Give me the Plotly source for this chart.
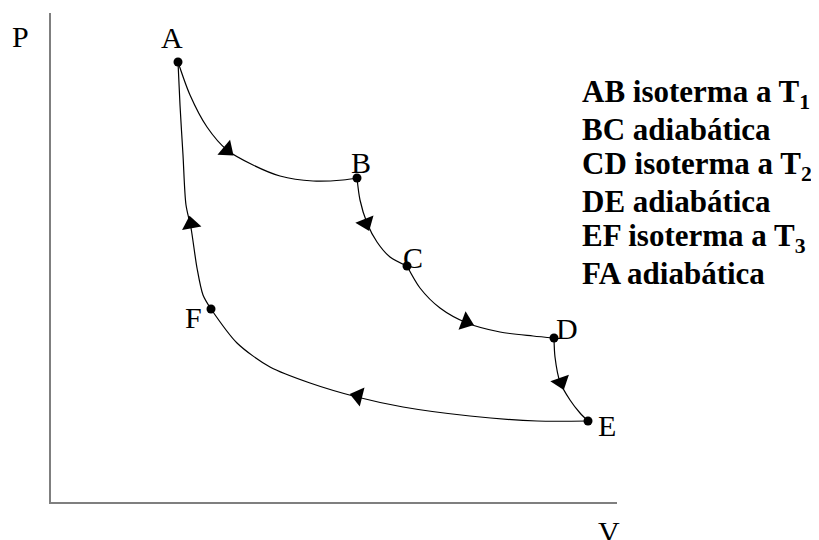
import plotly.graph_objects as go

# Ciclo en el diagrama P-V (unidades arbitrarias)
puntos = ['A', 'B', 'C', 'D', 'E', 'F']
V_puntos = [1.27, 3.06, 3.56, 5.03, 5.37, 1.60]
P_puntos = [4.40, 3.24, 2.36, 1.64, 0.81, 1.93]

# Tramos del ciclo
V_AB = [1.27, 1.39, 1.56, 1.76, 2.02, 2.29, 2.62, 2.92, 3.06]
P_AB = [4.40, 4.07, 3.75, 3.52, 3.37, 3.26, 3.21, 3.22, 3.24]
V_BC = [3.06, 3.09, 3.16, 3.26, 3.39, 3.56]
P_BC = [3.24, 3.02, 2.79, 2.60, 2.45, 2.36]
V_CD = [3.56, 3.69, 3.89, 4.16, 4.49, 4.82, 5.03]
P_CD = [2.36, 2.14, 1.94, 1.79, 1.70, 1.66, 1.64]
V_DE = [5.03, 5.04, 5.09, 5.19, 5.29, 5.37]
P_DE = [1.64, 1.45, 1.20, 1.02, 0.89, 0.81]
V_EF = [5.37, 4.86, 4.19, 3.52, 3.06, 2.59, 2.19, 1.86, 1.60]
P_EF = [0.81, 0.81, 0.86, 0.95, 1.05, 1.19, 1.35, 1.59, 1.93]
V_FA = [1.60, 1.52, 1.46, 1.40, 1.35, 1.32, 1.29, 1.27]
P_FA = [1.93, 2.07, 2.34, 2.74, 2.97, 3.47, 3.97, 4.40]

# Flechas de sentido
V_flechas = [1.76, 3.15, 4.15, 5.10, 3.07, 1.40]
P_flechas = [3.52, 2.79, 1.80, 1.20, 1.06, 2.78]

leyenda = ['AB isoterma a T<sub>1</sub>', 'BC adiabática', 'CD isoterma a T<sub>2</sub>',
           'DE adiabática', 'EF isoterma a T<sub>3</sub>', 'FA adiabática']

FUENTE = 'Liberation Serif, Times New Roman, serif'
ANGULOS_FLECHAS = [130, 158, 111, 161, 284, -10]
DESPLAZ_ETIQUETAS = [(-6, 25), (4, 16), (6, 9), (13, 10), (19, -4), (-18, -8)]

fig = go.Figure()

tramos = [(V_AB, P_AB), (V_BC, P_BC), (V_CD, P_CD), (V_DE, P_DE), (V_EF, P_EF), (V_FA, P_FA)]
for vs, ps in tramos:
    fig.add_trace(go.Scatter(
        x=vs, y=ps, mode='lines',
        line=dict(color='black', width=1.2, shape='spline', smoothing=0.8),
        hoverinfo='skip'
    ))

fig.add_trace(go.Scatter(
    x=V_flechas, y=P_flechas, mode='markers',
    marker=dict(symbol='triangle-up', size=17, color='black', angle=ANGULOS_FLECHAS),
    hoverinfo='skip'
))

fig.add_trace(go.Scatter(
    x=V_puntos, y=P_puntos, mode='markers',
    marker=dict(size=9, color='black'),
    cliponaxis=False
))

# Etiquetas de los puntos
for nombre, v, p, (dx, dy) in zip(puntos, V_puntos, P_puntos, DESPLAZ_ETIQUETAS):
    fig.add_annotation(x=v, y=p, text=nombre, showarrow=False,
                       xshift=dx, yshift=dy, xanchor='center', yanchor='middle',
                       font=dict(family=FUENTE, size=30, color='black'))

# Leyenda de los procesos
for i, linea in enumerate(leyenda):
    fig.add_annotation(xref='paper', yref='paper', x=0.935, y=0.835 - i * 0.0736,
                       text='<b>' + linea + '</b>', showarrow=False,
                       xanchor='left', yanchor='middle',
                       font=dict(family=FUENTE, size=31, color='black'))

# Nombres de los ejes
fig.add_annotation(xref='paper', yref='paper', x=-0.054, y=0.951, text='P',
                   showarrow=False, xanchor='center', yanchor='middle',
                   font=dict(family=FUENTE, size=30, color='black'))
fig.add_annotation(xref='paper', yref='paper', x=0.986, y=-0.061, text='V',
                   showarrow=False, xanchor='center', yanchor='middle',
                   font=dict(family=FUENTE, size=30, color='black'))

# la página deja 8 px de margen en el body: se compensa en los márgenes
fig.update_layout(
    width=811, height=532,
    margin=dict(l=43, r=202, t=5, b=38),
    paper_bgcolor='white', plot_bgcolor='white',
    showlegend=False
)
fig.update_xaxes(range=[0, 5.66], showline=True, linecolor='#7f7f7f', linewidth=1.5,
                 showgrid=False, zeroline=False, showticklabels=False, ticks='')
fig.update_yaxes(range=[0, 4.89], showline=True, linecolor='#7f7f7f', linewidth=1.5,
                 showgrid=False, zeroline=False, showticklabels=False, ticks='')

fig.write_html("out.html")
